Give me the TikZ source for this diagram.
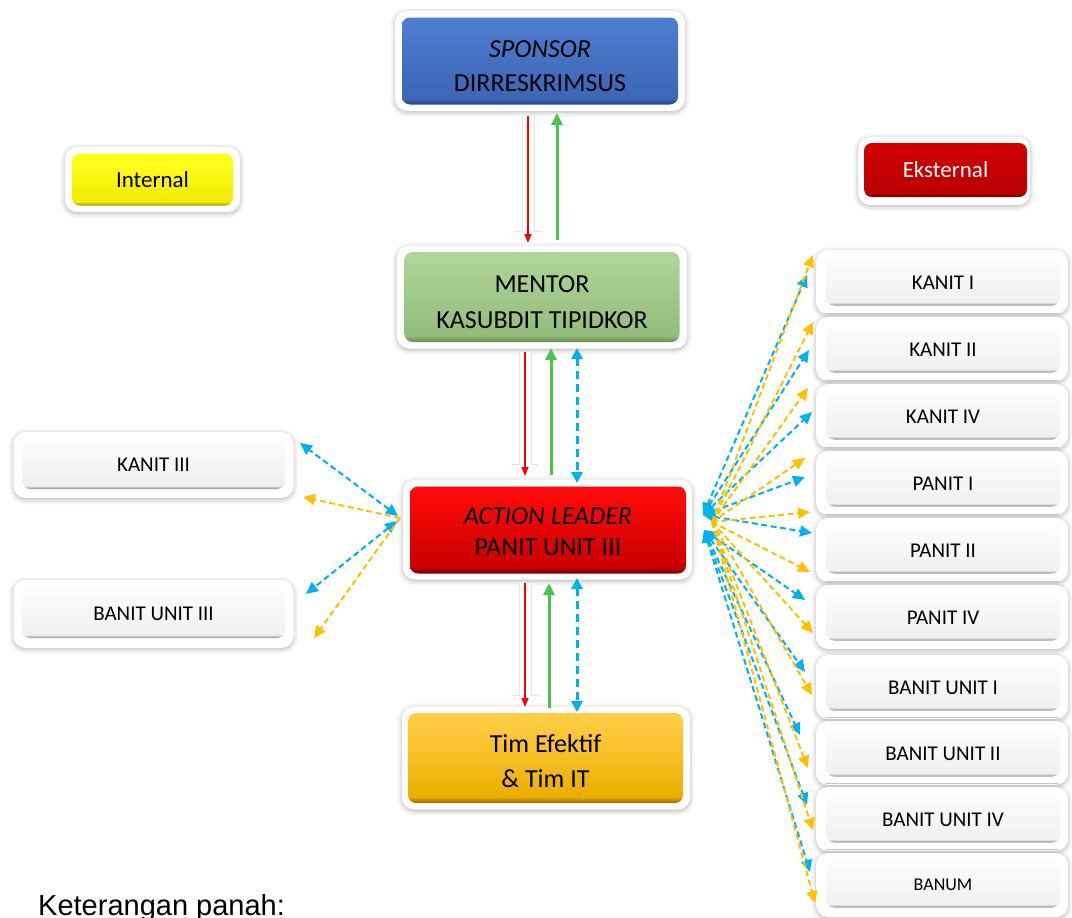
\documentclass[tikz,border=0pt]{standalone}
\usepackage{fontspec}
\setmainfont{Carlito}
\newfontfamily\arialf{Liberation Sans}
\usetikzlibrary{arrows.meta,shadows.blur,calc}
\definecolor{bluT}{HTML}{4E7CCF}
\definecolor{bluB}{HTML}{3C66B6}
\definecolor{bluD}{HTML}{2A4884}
\definecolor{grnT}{HTML}{AED597}
\definecolor{grnB}{HTML}{93BB79}
\definecolor{grnD}{HTML}{6A8C55}
\definecolor{redT}{HTML}{FF0A0A}
\definecolor{redB}{HTML}{C80000}
\definecolor{redD}{HTML}{700000}
\definecolor{golT}{HTML}{FFCD45}
\definecolor{golB}{HTML}{EBAE00}
\definecolor{golD}{HTML}{936E00}
\definecolor{yelT}{HTML}{FFFF20}
\definecolor{yelB}{HTML}{F2EA00}
\definecolor{yelD}{HTML}{9A9400}
\definecolor{ekT}{HTML}{D20000}
\definecolor{ekB}{HTML}{B80000}
\definecolor{ekD}{HTML}{6A0000}
\definecolor{gryT}{HTML}{FBFBFB}
\definecolor{gryB}{HTML}{F0F0F0}
\definecolor{gryD}{HTML}{8A8A8A}
\definecolor{arRed}{HTML}{FF0000}
\definecolor{arGrn}{HTML}{4CC34C}
\definecolor{arBlu}{HTML}{00B0F0}
\definecolor{arOra}{HTML}{FFC000}
\newcommand\mkshade[4]{\pgfdeclareverticalshading{#1}{100bp}{color(0bp)=(#4); color(25bp)=(#4); color(28.5bp)=(#3); color(72bp)=(#2); color(75bp)=(#2); color(100bp)=(#2)}}
\mkshade{shBlue}{bluT}{bluB}{bluD}
\mkshade{shGreen}{grnT}{grnB}{grnD}
\mkshade{shRed}{redT}{redB}{redD}
\mkshade{shGold}{golT}{golB}{golD}
\mkshade{shYel}{yelT}{yelB}{yelD}
\mkshade{shEks}{ekT}{ekB}{ekD}
\mkshade{shGray}{gryT}{gryB}{gryD}
\begin{document}
\begin{tikzpicture}[x=1pt,y=-1pt,
  frame/.style={fill=white, rounded corners=12pt, inner sep=0pt,
    blur shadow={shadow xshift=0pt, shadow yshift=-1.5pt, shadow blur radius=5pt, shadow opacity=30}},
  btn/.style={shade, rounded corners=8pt, inner sep=0pt, align=center, text=black},
  txt/.style={inner sep=0pt, align=center, text=black},
  mid/.style={font=\fontsize{23}{28}\selectfont},
  sml/.style={font=\fontsize{21}{25}\selectfont},
  rframe/.style={frame, minimum width=252pt, minimum height=64pt},
  rbtn/.style={btn, shading=shGray, minimum width=234pt, minimum height=45pt, sml},
  halo/.style={draw=white, line width=11pt, -{Triangle[length=13pt,width=24pt]}},
  haloedge/.style={draw=black!10, line width=13pt, -{Triangle[length=14pt,width=27pt]}},
  redar/.style={draw=arRed, line width=1.3pt, -{Triangle[length=9pt,width=7pt]}},
  grnar/.style={draw=arGrn, line width=3pt, -{Triangle[length=12pt,width=11pt]}},
  bluv/.style={draw=arBlu, line width=3pt, dash pattern=on 8pt off 5pt,
    {Triangle[length=11pt,width=11pt]}-{Triangle[length=11pt,width=11pt]}},
  fanB/.style={draw=arBlu, line width=2pt, dash pattern=on 6pt off 3.5pt,
    {Triangle[length=12pt,width=11pt]}-{Triangle[length=12pt,width=11pt]}},
  fanO/.style={draw=arOra, line width=2pt, dash pattern=on 6pt off 3.5pt,
    -{Triangle[length=12pt,width=11pt]}}]
\useasboundingbox (0,0) rectangle (1072,918);

% ---------- main column ----------
\node[frame, minimum width=290pt, minimum height=100pt] (spF) at (540,61) {};
\node[btn, shading=shBlue, minimum width=276pt, minimum height=87pt] (sp) at (540,61) {};
\node[txt, font=\fontsize{26}{34}\selectfont] (spT) at ($(sp)+(0,5.5)$) {\textit{SPONSOR}\\DIRRESKRIMSUS};

\node[frame, minimum width=290pt, minimum height=103pt] (meF) at (542,297) {};
\node[btn, shading=shGreen, minimum width=275pt, minimum height=90pt] (me) at (542,297) {};
\node[txt, font=\fontsize{26}{36}\selectfont] (meT) at ($(me)+(0,5.5)$) {MENTOR\\KASUBDIT TIPIDKOR};

\node[frame, minimum width=289pt, minimum height=100pt] (alF) at (547.5,529.5) {};
\node[btn, shading=shRed, minimum width=276pt, minimum height=87pt] (al) at (548,530) {};
\node[txt, font=\fontsize{26}{31.5}\selectfont] (alT) at ($(al)+(0,1.5)$) {\textit{ACTION LEADER}\\PANIT UNIT III};

\node[frame, minimum width=288pt, minimum height=103pt] (tiF) at (546,758) {};
\node[btn, shading=shGold, minimum width=275pt, minimum height=90pt] (ti) at (545.5,758) {};
\node[txt, font=\fontsize{26}{35}\selectfont] (tiT) at ($(ti)+(0,3.5)$) {Tim Efektif\\\& Tim IT};

% ---------- legend boxes ----------
\node[frame, minimum width=175pt, minimum height=65pt] (inF) at (152.5,179.5) {};
\node[btn, shading=shYel, minimum width=161pt, minimum height=52pt, mid] (in) at (152.5,179.5) {Internal};

\node[frame, minimum width=172pt, minimum height=68pt] (ekF) at (944,171) {};
\node[btn, shading=shEks, minimum width=163pt, minimum height=54pt, mid, text=white] (ek) at (945.5,170) {Eksternal};

% ---------- left boxes ----------
\node[frame, minimum width=280pt, minimum height=66pt] (k3F) at (153.5,465) {};
\node[btn, shading=shGray, minimum width=263pt, minimum height=48pt, sml] (k3) at (153.5,465) {KANIT III};
\node[frame, minimum width=280pt, minimum height=68pt] (b3F) at (153.5,614) {};
\node[btn, shading=shGray, minimum width=263pt, minimum height=48pt, sml] (b3) at (153.5,614) {BANIT UNIT III};

% ---------- right boxes ----------
\node[rframe] (r1F) at (942,282) {};  \node[rbtn] (r1) at (943,283) {KANIT I};
\node[rframe] (r2F) at (942,349) {};  \node[rbtn] (r2) at (943,350) {KANIT II};
\node[rframe] (r3F) at (942,416) {};  \node[rbtn] (r3) at (943,417) {KANIT IV};
\node[rframe] (r4F) at (942,483) {};  \node[rbtn] (r4) at (943,484) {PANIT I};
\node[rframe] (r5F) at (942,550) {};  \node[rbtn] (r5) at (943,551) {PANIT II};
\node[rframe] (r6F) at (942,617) {};  \node[rbtn] (r6) at (943,618) {PANIT IV};
\node[rframe] (r7F) at (942,687) {};  \node[rbtn] (r7) at (943,688) {BANIT UNIT I};
\node[rframe] (r8F) at (942,753) {};  \node[rbtn] (r8) at (943,754) {BANIT UNIT II};
\node[rframe] (r9F) at (942,819) {};  \node[rbtn] (r9) at (943,820) {BANIT UNIT IV};
\node[rframe] (r10F) at (942,885) {}; \node[rbtn, font=\fontsize{18}{22}\selectfont] (r10) at (943,885) {BANUM};

% ---------- vertical connectors ----------
\coordinate (sm1) at (528,116); \coordinate (sm2) at (528,243);
\coordinate (sm3) at (557,240); \coordinate (sm4) at (557,113);
\coordinate (ma1) at (525,352); \coordinate (ma2) at (525,476);
\coordinate (ma3) at (551,475); \coordinate (ma4) at (551,348);
\coordinate (ma5) at (577,348); \coordinate (ma6) at (577,483);
\coordinate (at1) at (525,583); \coordinate (at2) at (525,707);
\coordinate (at3) at (549,708); \coordinate (at4) at (549,583);
\coordinate (at5) at (577,578); \coordinate (at6) at (577,712);

\foreach \a/\b in {sm1/sm2, ma1/ma2, at1/at2} {
  \path[haloedge] (\a) -- ($(\b)+(0,2)$);
  \path[halo] (\a) -- ($(\b)+(0,2)$);
}
\draw[redar] (sm1) -- (sm2);
\draw[grnar] (sm3) -- (sm4);
\draw[redar] (ma1) -- (ma2);
\draw[grnar] (ma3) -- (ma4);
\draw[bluv] (ma5) -- (ma6);
\draw[redar] (at1) -- (at2);
\draw[grnar] (at3) -- (at4);
\draw[bluv] (at5) -- (at6);

% ---------- left fan ----------
\coordinate (lb1) at (398,516); \coordinate (lb1t) at (300,443);
\coordinate (lb2) at (397,521); \coordinate (lb2t) at (306,594);
\coordinate (lo) at (400,518);
\coordinate (lo1t) at (303,497); \coordinate (lo2t) at (314,638);
\draw[fanB] (lb1) -- (lb1t);
\draw[fanB] (lb2) -- (lb2t);
\draw[fanO] (lo) -- (lo1t);
\draw[fanO] (lo) -- (lo2t);

% ---------- right fan ----------
\coordinate (rbu) at (703,515);
\coordinate (rbl) at (704,530);
\coordinate (ro) at (712,522);
\foreach \x/\y [count=\i] in {807/275, 809/350, 812/412, 805/477, 812/533}
  \draw[fanB] (rbu) -- (\x,\y) coordinate (bt\i);
\foreach \x/\y [count=\i] in {805/600, 805/672, 800/735, 807/805, 810/872}
  \draw[fanB] (rbl) -- (\x,\y) coordinate (bl\i);
\foreach \x/\y [count=\i] in {813/255, 813/322, 808/388, 805/458, 810/512, 810/572, 813/633, 812/695, 808/768, 813/830, 815/903}
  \draw[fanO] (ro) -- (\x,\y) coordinate (ot\i);

% ---------- caption ----------
\node[anchor=base west, inner sep=0pt, font=\arialf\fontsize{29}{34}\selectfont] (ket) at (38,915) {Keterangan panah:};
\end{tikzpicture}
\end{document}
